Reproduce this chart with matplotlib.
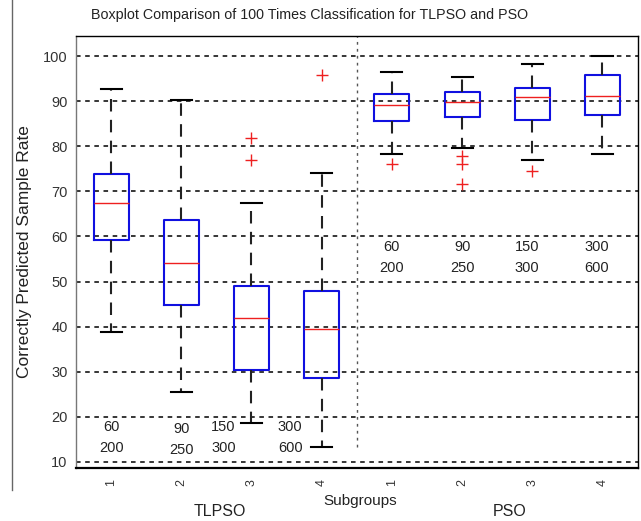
import matplotlib
matplotlib.use("Agg")
from matplotlib import pyplot as plt
from matplotlib.lines import Line2D
import numpy as np

# one entry per box (TLPSO 1-4, then PSO 1-4)
groups = ["1", "2", "3", "4", "1", "2", "3", "4"]
whislo = [38.7, 25.5, 18.7, 13.2, 78.2, 79.6, 76.9, 78.2]
q1 = [59.3, 44.8, 30.4, 28.5, 85.6, 86.6, 85.9, 87.0]
med = [67.4, 54.2, 41.9, 39.5, 89.1, 89.8, 90.9, 91.2]
q3 = [73.8, 63.6, 48.9, 47.9, 91.6, 92.1, 92.9, 95.8]
whishi = [92.7, 90.4, 67.4, 74.1, 96.4, 95.5, 98.3, 100.0]
fliers = [[], [], [81.8, 76.9], [95.8], [76.1], [77.9, 76.1, 71.7], [74.5], []]

# population / iteration settings printed under each box
pop = ["60", "90", "150", "300", "60", "90", "150", "300"]
iters = ["200", "250", "300", "600", "200", "250", "300", "600"]
label_x = [1.0, 2.0, 2.6, 3.55, 5.0, 6.0, 6.92, 7.92]
label_y = [17.6, 17.2, 17.6, 17.6, 57.6, 57.6, 57.6, 57.6]

plt.rcParams['font.family'] = ['Liberation Sans', 'DejaVu Sans']

fig = plt.figure(figsize=(6.41, 5.21), dpi=100)
ax = fig.add_axes([0.1186, 0.1017, 0.876, 0.8292])

stats = []
for i in range(len(groups)):
    stats.append(dict(whislo=whislo[i], q1=q1[i], med=med[i], q3=q3[i],
                      whishi=whishi[i], fliers=fliers[i], label=groups[i]))

pos = np.arange(1, len(groups) + 1)
ax.bxp(stats, positions=pos, widths=0.5, showfliers=True,
       boxprops=dict(color="#1010e0", linewidth=1.5),
       medianprops=dict(color="#ee2020", linewidth=1.0),
       whiskerprops=dict(color="#222222", linewidth=1.5, linestyle=(0, (6, 4))),
       capprops=dict(color="black", linewidth=1.5),
       flierprops=dict(marker="+", markeredgecolor="#ee2020", markersize=8,
                       markeredgewidth=1.0, linestyle="none"),
       capwidths=0.3, zorder=3)

ax.set_xlim(0.5, 8.5)
ax.set_ylim(8.6, 104.5)
ax.set_yticks(np.arange(10, 101, 10))
ax.yaxis.grid(True, color="black", linestyle=(0, (3, 3)), linewidth=1.1)
ax.set_axisbelow(True)
ax.set_xticks(pos)
ax.set_xticklabels(groups, rotation=90)
ax.tick_params(axis="y", length=0, pad=6, labelsize=10.5, labelcolor="#333333")
ax.tick_params(axis="x", length=0, pad=8, labelsize=9, labelcolor="#333333")

# split between TLPSO and PSO
ax.plot([4.5, 4.5], [13.3, 104.5], color="#555555", linestyle=(0, (2, 3)),
        linewidth=1.0, zorder=2)

for i in range(len(pop)):
    ax.text(label_x[i], label_y[i], pop[i], ha="center", va="center",
            fontsize=10.5, color="#222222")
    ax.text(label_x[i], label_y[i] - 4.6, iters[i], ha="center", va="center",
            fontsize=10.5, color="#222222")

for s in ax.spines.values():
    s.set_color("black")
    s.set_linewidth(1.0)
ax.spines["bottom"].set_linewidth(1.6)
ax.spines["left"].set_color("#777777")

ax.set_ylabel("Correctly Predicted Sample Rate", fontsize=12.5, labelpad=8,
              color="#222222")

fig.text(360 / 641, 1 - 501 / 521, "Subgroups", ha="center", va="center",
         fontsize=11, color="#222222")
fig.text(220 / 641, 1 - 512 / 521, "TLPSO", ha="center", va="center",
         fontsize=11.5, color="#222222")
fig.text(510 / 641, 1 - 512 / 521, "PSO", ha="center", va="center",
         fontsize=11.5, color="#222222")
fig.text(310 / 641, 1 - 15 / 521,
         "Boxplot Comparison of 100 Times Classification for TLPSO and PSO",
         ha="center", va="center", fontsize=10.3, color="#222222")

# the thin border line at the left edge of the picture
fig.add_artist(Line2D([12 / 641, 12 / 641], [1 - 490 / 521, 1.0],
                      transform=fig.transFigure, color="#666666", linewidth=1.0))

fig.savefig("out.png", dpi=100)
